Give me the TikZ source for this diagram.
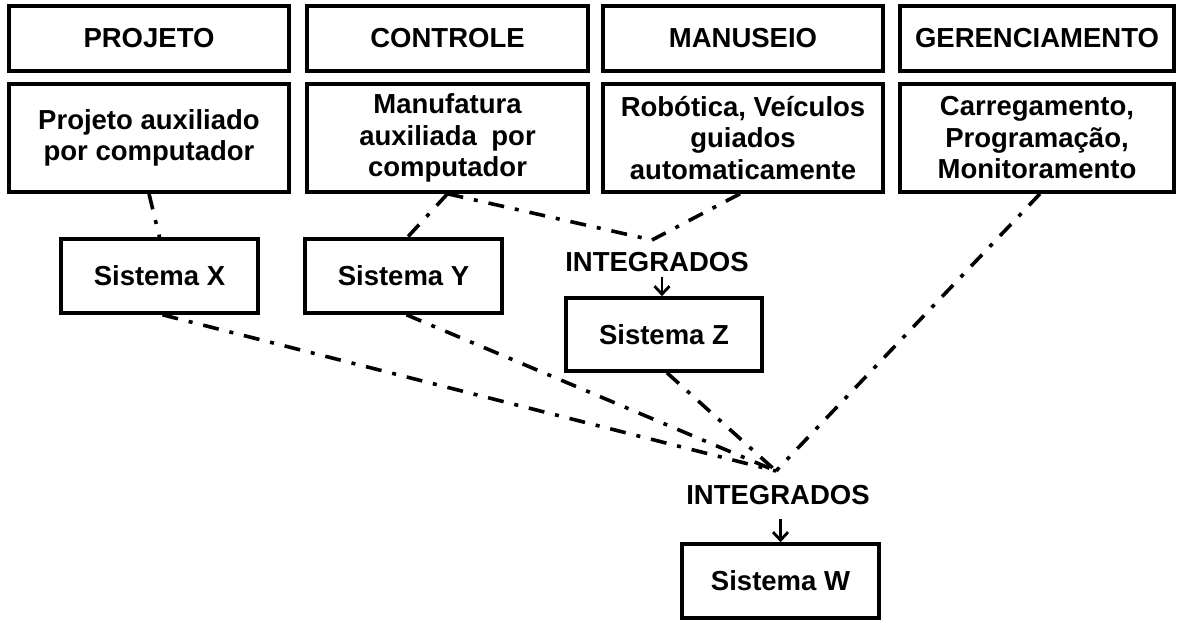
\documentclass[tikz,border=0pt]{standalone}
\usepackage{fontspec}
\setmainfont{Liberation Sans}
\usetikzlibrary{arrows.meta,calc}
\begin{document}
\begin{tikzpicture}[x=1pt,y=-1pt,
  box/.style={draw,line width=3.6pt,rectangle,inner sep=0pt,align=center,
    font=\fontsize{27.5}{31.5}\selectfont\bfseries},
  lbl/.style={inner sep=0pt,font=\fontsize{27.5}{31.5}\selectfont\bfseries},
  dd/.style={line width=3.6pt,line cap=butt,dash pattern=on 16pt off 11pt on 4pt off 11pt},
  arr/.style={line width=2.8pt,-{Straight Barb[length=8pt,width=15pt,line width=2.8pt]}}]
\useasboundingbox (0,0) rectangle (1178,619);
% top row
\node[box,minimum width=280pt,minimum height=65pt] (t1) at (149,38.5) {PROJETO};
\node[box,minimum width=281pt,minimum height=65pt] (t2) at (447.5,38.5) {CONTROLE};
\node[box,minimum width=280pt,minimum height=65pt] (t3) at (743,38.5) {MANUSEIO};
\node[box,minimum width=274pt,minimum height=65pt] (t4) at (1037,38.5) {GERENCIAMENTO};
% second row
\node[box,minimum width=280pt,minimum height=108pt] (p1) at (149,138) {Projeto auxiliado\\por computador};
\node[box,minimum width=281pt,minimum height=108pt] (p2) at (447.5,138) {Manufatura\\auxiliada\hspace{0.25em} por\\computador};
\node[box,minimum width=280pt,minimum height=108pt] (p3) at (743,138) {Robótica, Veículos\\guiados\\automaticamente};
\node[box,minimum width=274pt,minimum height=108pt] (p4) at (1037,138) {Carregamento,\\Programação,\\Monitoramento};
% systems
\node[box,minimum width=197pt,minimum height=74pt] (sx) at (159.5,276) {Sistema X};
\node[box,minimum width=197pt,minimum height=74pt] (sy) at (403.5,276) {Sistema Y};
\node[box,minimum width=196pt,minimum height=73pt] (sz) at (664,334.5) {Sistema Z};
\node[box,minimum width=197pt,minimum height=74pt] (sw) at (780.5,581) {Sistema W};
% labels
\node[lbl] (i1) at (657,262) {INTEGRADOS};
\node[lbl] (i2) at (778,495) {INTEGRADOS};
% junctions
\coordinate (j1) at (652,240);
\coordinate (j2) at (776,471);
% connectors
\draw[dd] (p1.south) -- (sx.north);
\draw[dd] (p2.south) -- ([xshift=4pt]sy.north);
\draw[dd] (p2.south) -- (j1);
\draw[dd] ([xshift=-3pt]p3.south) -- (j1);
\draw[dd] ([xshift=3pt]p4.south) -- (j2);
\draw[dd] ([xshift=3pt]sx.south) -- (j2);
\draw[dd] ([xshift=3pt]sy.south) -- (j2);
\draw[dd] ([xshift=3pt]sz.south) -- (j2);
% arrows
\coordinate (za) at ([xshift=-2pt]sz.north);
\draw[arr] ([yshift=-5pt]za |- i1.south) -- (za);
\draw[arr] ([yshift=-14pt]sw.north |- i2.south) -- (sw.north);
\end{tikzpicture}
\end{document}
